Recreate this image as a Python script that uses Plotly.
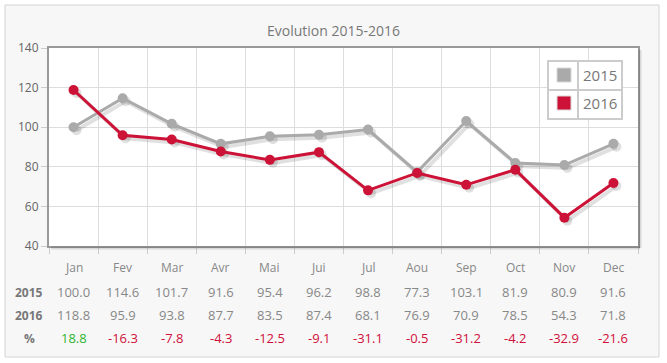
import plotly.graph_objects as go

months = ["Jan", "Fev", "Mar", "Avr", "Mai", "Jui", "Jul", "Aou", "Sep", "Oct", "Nov", "Dec"]
v2015 = [100.0, 114.6, 101.7, 91.6, 95.4, 96.2, 98.8, 77.3, 103.1, 81.9, 80.9, 91.6]
v2016 = [118.8, 95.9, 93.8, 87.7, 83.5, 87.4, 68.1, 76.9, 70.9, 78.5, 54.3, 71.8]
pct = [18.8, -16.3, -7.8, -4.3, -12.5, -9.1, -31.1, -0.5, -31.2, -4.2, -32.9, -21.6]
yticks = [40, 60, 80, 100, 120, 140]

W, H = 667, 363
L, R, T, B = 49, 638, 48, 246

def px(x):
    return (x - L) / (R - L)

def py(y):
    return (B - y) / (B - T)

C15 = "#aaaaaa"
C16 = "#cc1236"
FONT = "Open Sans, Arial, sans-serif"
xs = list(range(len(months)))

fig = go.Figure()
# shadows
dx, dy = 3 / ((R - L) / 12), 3 / ((B - T) / 100)
for vals in (v2015, v2016):
    fig.add_trace(go.Scatter(x=[x + dx for x in xs], y=[v - dy for v in vals], mode="lines+markers",
                             line=dict(color="rgba(0,0,0,0.12)", width=4),
                             marker=dict(size=10, color="rgba(0,0,0,0.12)"),
                             hoverinfo="skip", showlegend=False))
fig.add_trace(go.Scatter(x=xs, y=v2015, mode="lines+markers", name="2015",
                         line=dict(color=C15, width=3), marker=dict(size=10, color=C15)))
fig.add_trace(go.Scatter(x=xs, y=v2016, mode="lines+markers", name="2016",
                         line=dict(color=C16, width=3), marker=dict(size=10, color=C16)))

shapes = [
    dict(type="rect", xref="paper", yref="paper", x0=px(5), x1=px(659), y0=py(357), y1=py(5),
         fillcolor="#f7f7f7", line=dict(color="#d4d4d4", width=1), layer="below"),
    dict(type="rect", xref="paper", yref="paper", x0=0, x1=1, y0=0, y1=1,
         fillcolor="#ffffff", line=dict(width=0), layer="below"),
    # frame shadow
    dict(type="line", xref="paper", yref="paper", x0=px(R + 2), x1=px(R + 2), y0=py(B + 2), y1=py(T + 2),
         line=dict(color="rgba(0,0,0,0.12)", width=3)),
    dict(type="line", xref="paper", yref="paper", x0=px(L + 2), x1=px(R + 2), y0=py(B + 2), y1=py(B + 2),
         line=dict(color="rgba(0,0,0,0.12)", width=3)),
    # legend
    dict(type="rect", xref="paper", yref="paper", x0=px(548), x1=px(622), y0=py(119), y1=py(61),
         fillcolor="#ffffff", line=dict(color="#cccccc", width=2)),
    dict(type="line", xref="paper", yref="paper", x0=px(548), x1=px(622), y0=py(90), y1=py(90),
         line=dict(color="#cccccc", width=2)),
    dict(type="line", xref="paper", yref="paper", x0=px(578), x1=px(578), y0=py(119), y1=py(61),
         line=dict(color="#cccccc", width=2)),
    dict(type="rect", xref="paper", yref="paper", x0=px(557), x1=px(571), y0=py(82), y1=py(68),
         fillcolor=C15, line=dict(color="#d8d8d8", width=1)),
    dict(type="rect", xref="paper", yref="paper", x0=px(557), x1=px(571), y0=py(110), y1=py(96),
         fillcolor=C16, line=dict(color="#d8d8d8", width=1)),
]

def A(text, x, y, size, color, xref="paper"):
    return dict(text=text, xref=xref, yref="paper", x=x, y=y, showarrow=False,
                xanchor="center", yanchor="middle", font=dict(size=size, color=color))

ann = [
    A("Evolution 2015-2016", px(333), py(30), 14, "#777777"),
    A("2015", px(600), py(75), 15, "#777777"),
    A("2016", px(600), py(103), 15, "#777777"),
]
rows = [("2015", 292), ("2016", 315), ("%", 338)]
for lab, yy in rows:
    ann.append(A("<b>%s</b>" % lab, px(29), py(yy), 12, "#777777"))
for i, m in enumerate(months):
    ann.append(A(m, i, py(267), 12, "#888888", "x"))
    ann.append(A("%.1f" % v2015[i], i, py(292), 13, "#888888", "x"))
    ann.append(A("%.1f" % v2016[i], i, py(315), 13, "#888888", "x"))
    ann.append(A("%.1f" % pct[i], i, py(338), 13, "#2fb52f" if pct[i] >= 0 else "#d0103a", "x"))

fig.update_layout(
    width=W, height=H,
    margin=dict(l=L, r=W - R, t=T, b=H - B, pad=0, autoexpand=False),
    paper_bgcolor="#ffffff", plot_bgcolor="rgba(0,0,0,0)",
    font=dict(family=FONT, color="#666666"),
    showlegend=False,
    shapes=shapes, annotations=ann,
    xaxis=dict(range=[-0.5, 11.5], tickvals=[i + 0.5 for i in range(-1, 12)], showticklabels=False,
               showgrid=True, gridcolor="#dddddd", gridwidth=1, ticks="outside", ticklen=6,
               tickcolor="#cccccc", showline=True, linecolor="#999999", linewidth=2, mirror=True,
               zeroline=False, fixedrange=True, automargin=False),
    yaxis=dict(range=[40, 140], tickvals=yticks, showgrid=True, gridcolor="#dddddd", gridwidth=1,
               ticks="outside", ticklen=6, tickcolor="#cccccc", showline=True, linecolor="#999999",
               linewidth=2, mirror=True, zeroline=False, tickfont=dict(size=12, color="#666666"),
               fixedrange=True, automargin=False),
)
fig.write_html("out.html", config={"displayModeBar": False},
               post_script="document.body.style.margin='0';document.body.style.overflow='hidden';")
